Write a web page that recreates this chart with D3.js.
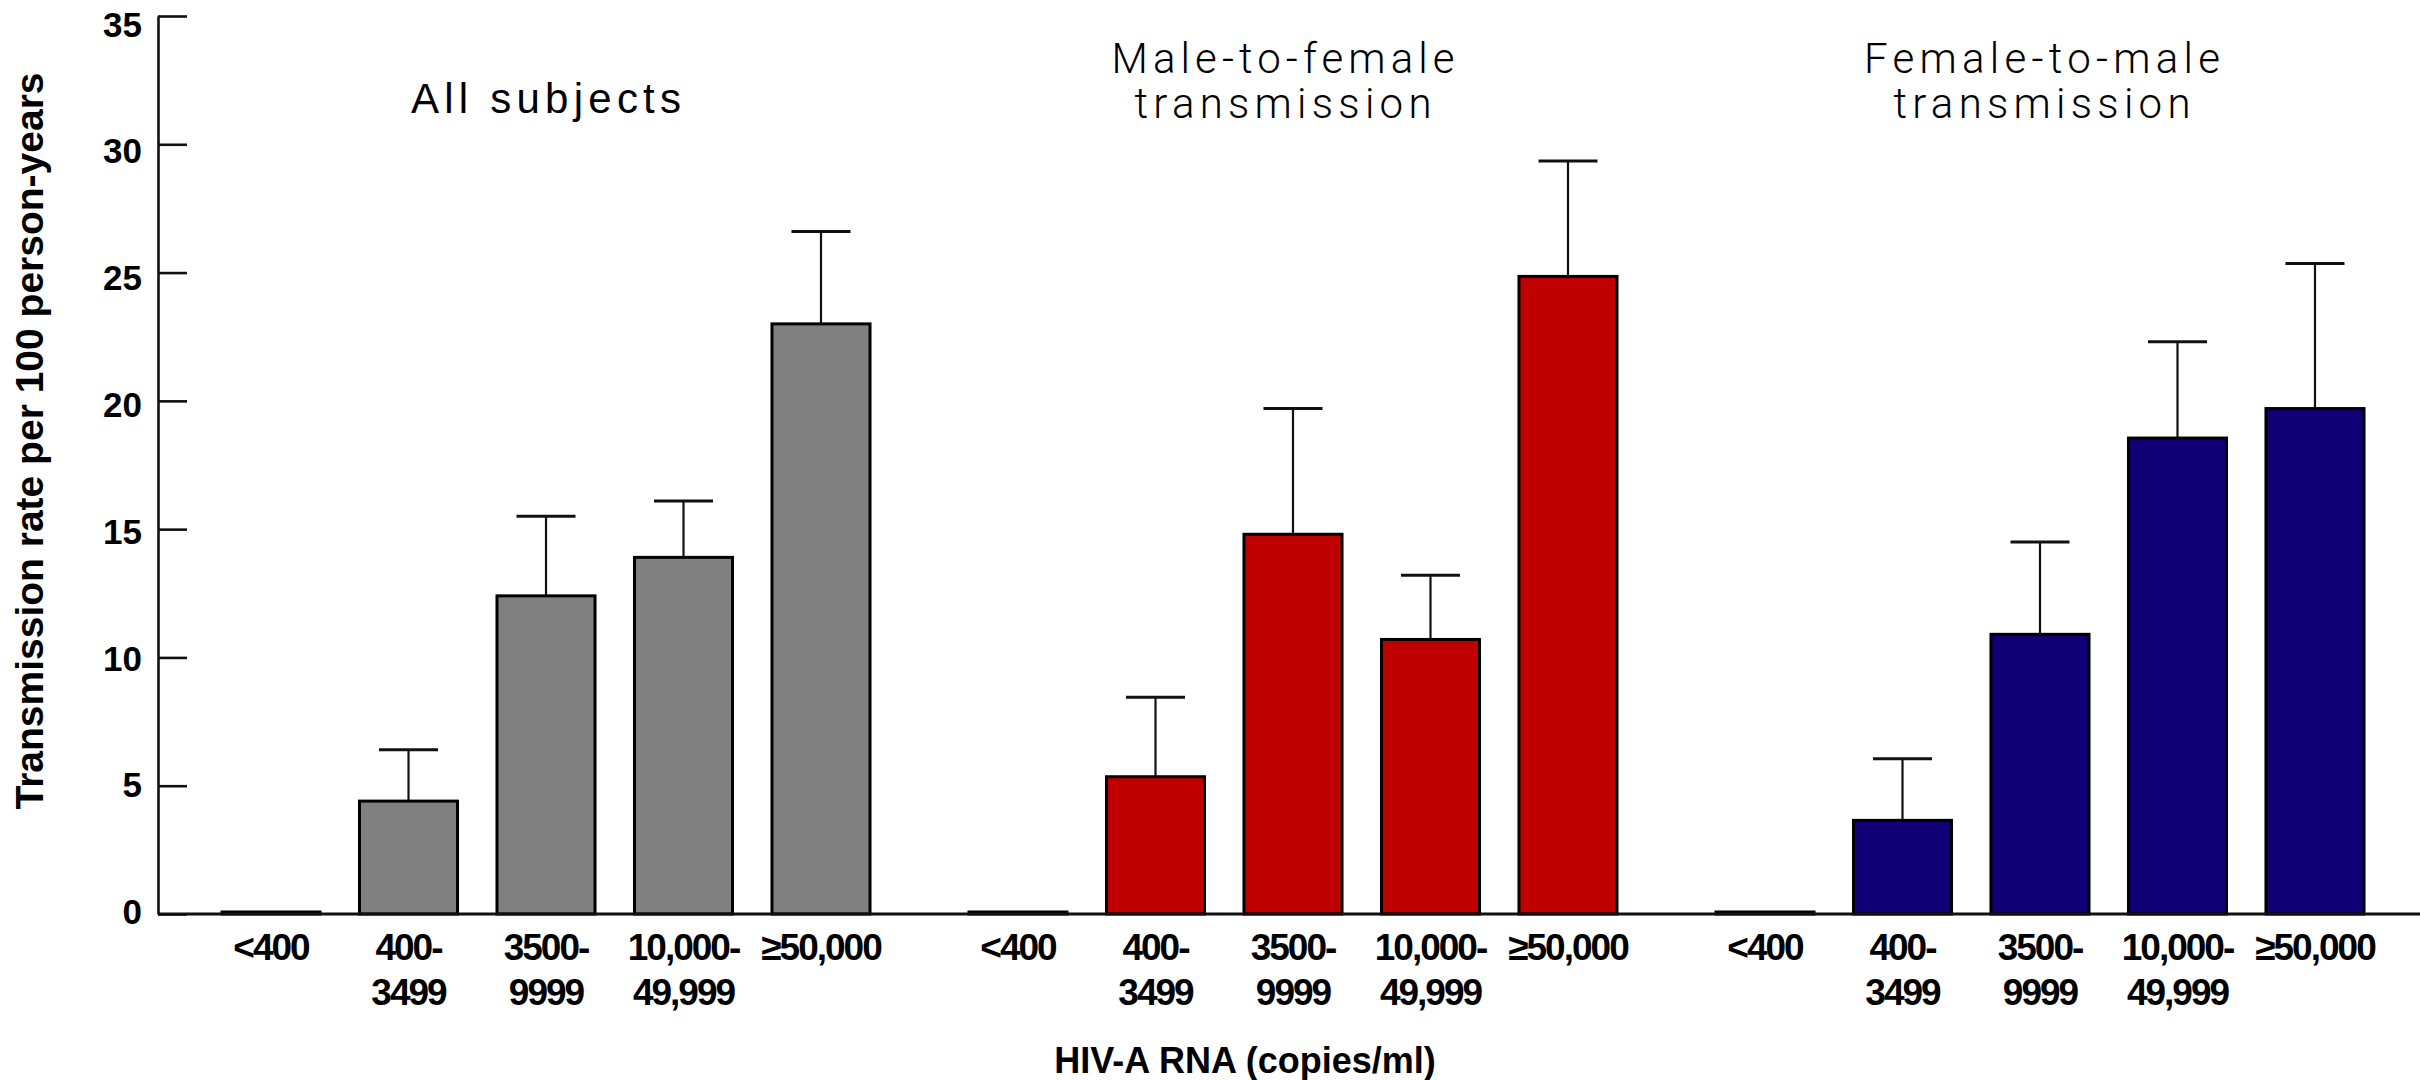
<!DOCTYPE html>
<html>
<head>
<meta charset="utf-8">
<script src="https://cdn.jsdelivr.net/npm/d3@7"></script>
<style>
    body { margin: 0; background: #fff; }
    .tickLbl { font-family: "Liberation Sans", Arial, sans-serif; font-weight: bold; }
</style>
</head>
<body>
<script>
//chart values
var categories = ["<400", "400-3499", "3500-9999", "10,000-49,999", "≥50,000"];
var categoryLines = [["<400"], ["400-", "3499"], ["3500-", "9999"], ["10,000-", "49,999"], ["≥50,000"]];
var groups = ["all", "mf", "fm"];
var groupTitles = [["All subjects"], ["Male-to-female", "transmission"], ["Female-to-male", "transmission"]];
var groupColors = ["#808080", "#c00000", "#110075"];

var allRates = [0, 4.4, 12.4, 13.9, 23.0];
var allUpper = [null, 6.4, 15.5, 16.1, 26.6];
var mfRates = [0, 5.35, 14.8, 10.7, 24.85];
var mfUpper = [null, 8.45, 19.7, 13.2, 29.35];
var fmRates = [0, 3.65, 10.9, 18.55, 19.7];
var fmUpper = [null, 6.05, 14.5, 22.3, 25.35];

var yTicks = [0, 5, 10, 15, 20, 25, 30, 35];
var yTitle = "Transmission rate per 100 person-years";
var xTitle = "HIV-A RNA (copies/ml)";

window.onload = drawChart();

function drawChart(){
    var width = 2420,
        height = 1080;

    var svg = d3.select("body")
        .append("svg")
        .attr("width", width)
        .attr("height", height);

    //scales
    var y = d3.scaleLinear()
        .domain([0, 35])
        .range([914, 16]);

    //tick labels in the figure sit on a slightly tighter spacing than the ticks
    var yLabel = d3.scaleLinear()
        .domain([0, 35])
        .range([911, 23.5]);

    var xGroup = d3.scaleBand()
        .domain(groups)
        .range([222, 2364])
        .paddingInner(0.1325)
        .paddingOuter(0);

    var xCat = d3.scaleBand()
        .domain(categories)
        .range([0, xGroup.bandwidth()])
        .paddingInner(0.287)
        .paddingOuter(0);

    var rates = [allRates, mfRates, fmRates];
    var uppers = [allUpper, mfUpper, fmUpper];

    //flatten into one record per bar
    var bars = [];
    groups.forEach(function(g, gi){
        categories.forEach(function(c, ci){
            bars.push({group: g, gi: gi, cat: c, ci: ci, value: rates[gi][ci], upper: uppers[gi][ci]});
        });
    });

    function barX(d){ return xGroup(d.group) + xCat(d.cat); }

    //error bars (drawn first so the bar outline covers the stem foot)
    var errs = svg.selectAll(".err")
        .data(bars.filter(function(d){ return d.upper != null; }))
        .enter()
        .append("g")
        .attr("class", "err");

    errs.append("line")
        .attr("x1", function(d){ return barX(d) + xCat.bandwidth() / 2; })
        .attr("x2", function(d){ return barX(d) + xCat.bandwidth() / 2; })
        .attr("y1", function(d){ return y(d.value); })
        .attr("y2", function(d){ return y(d.upper); })
        .attr("stroke", "#111")
        .attr("stroke-width", 2.2);

    errs.append("line")
        .attr("x1", function(d){ return barX(d) + xCat.bandwidth() / 2 - 29.5; })
        .attr("x2", function(d){ return barX(d) + xCat.bandwidth() / 2 + 29.5; })
        .attr("y1", function(d){ return y(d.upper); })
        .attr("y2", function(d){ return y(d.upper); })
        .attr("stroke", "#111")
        .attr("stroke-width", 3);

    //bars
    svg.selectAll(".bar")
        .data(bars)
        .enter()
        .append("rect")
        .attr("class", "bar")
        .attr("x", function(d){ return barX(d); })
        .attr("width", xCat.bandwidth())
        .attr("y", function(d){ return Math.min(y(d.value), y(0) - 2); })
        .attr("height", function(d){ return Math.max(y(0) - y(d.value), 2); })
        .attr("fill", function(d){ return groupColors[d.gi]; })
        .attr("stroke", "#000")
        .attr("stroke-width", 3);

    //y axis, ticks pointing into the plot
    var yAxis = d3.axisLeft(y)
        .tickValues(yTicks)
        .tickSizeInner(-29)
        .tickSizeOuter(0)
        .tickPadding(16);

    var yG = svg.append("g")
        .attr("transform", "translate(158,0)")
        .call(yAxis);
    yG.select(".domain").attr("stroke", "#111").attr("stroke-width", 2.6);
    yG.selectAll(".tick line").attr("stroke", "#111").attr("stroke-width", 2.6);
    yG.selectAll(".tick text")
        .attr("class", "tickLbl")
        .attr("fill", "#000")
        .attr("font-size", 35)
        .attr("y", function(v){ return yLabel(v) - y(v); })
        .attr("dy", "0.36em")
        .style("font-family", "'Liberation Sans', Arial, sans-serif")
        .style("font-weight", "bold");

    //x axis baseline
    svg.append("line")
        .attr("x1", 158)
        .attr("x2", width)
        .attr("y1", y(0))
        .attr("y2", y(0))
        .attr("stroke", "#111")
        .attr("stroke-width", 3);

    //category labels under each bar
    var lbls = svg.selectAll(".catLbl")
        .data(bars)
        .enter()
        .append("text")
        .attr("class", "tickLbl catLbl")
        .attr("text-anchor", "middle")
        .attr("font-size", 37)
        .attr("letter-spacing", "-2px")
        .attr("fill", "#000");

    lbls.selectAll("tspan")
        .data(function(d){
            return categoryLines[d.ci].map(function(s, i){
                return {s: s, i: i, cx: barX(d) + xCat.bandwidth() / 2};
            });
        })
        .enter()
        .append("tspan")
        .attr("x", function(t){ return t.cx; })
        .attr("y", function(t){ return 960 + t.i * 45; })
        .text(function(t){ return t.s; });

    //group titles
    var titleShift = [0, -10, 2];
    var titleBase = [113, 73, 73];
    var titleFont = ["'Liberation Sans', Arial, sans-serif", "Roboto, sans-serif", "Roboto, sans-serif"];
    var titleWeight = [400, 300, 300];
    var titleLen = {"All subjects": 270, "Male-to-female": 343, "Female-to-male": 356, "transmission": 297};

    groupTitles.forEach(function(lines, gi){
        var cx = xGroup(groups[gi]) + xGroup.bandwidth() / 2 + titleShift[gi];
        svg.selectAll(".title" + gi)
            .data(lines)
            .enter()
            .append("text")
            .attr("class", "title" + gi)
            .attr("x", cx)
            .attr("y", function(s, i){ return titleBase[gi] + i * 45; })
            .attr("text-anchor", "middle")
            .attr("font-size", 42)
            .attr("textLength", function(s){ return titleLen[s]; })
            .attr("lengthAdjust", "spacing")
            .style("font-family", titleFont[gi])
            .style("font-weight", titleWeight[gi])
            .attr("fill", "#000")
            .text(function(s){ return s; });
    });

    //axis titles
    svg.append("text")
        .attr("class", "tickLbl")
        .attr("transform", "translate(43,441) rotate(-90)")
        .attr("text-anchor", "middle")
        .attr("font-size", 39)
        .attr("fill", "#000")
        .text(yTitle);

    svg.append("text")
        .attr("class", "tickLbl")
        .attr("x", 1245)
        .attr("y", 1073)
        .attr("text-anchor", "middle")
        .attr("font-size", 36)
        .attr("fill", "#000")
        .text(xTitle);
};
</script>
</body>
</html>
